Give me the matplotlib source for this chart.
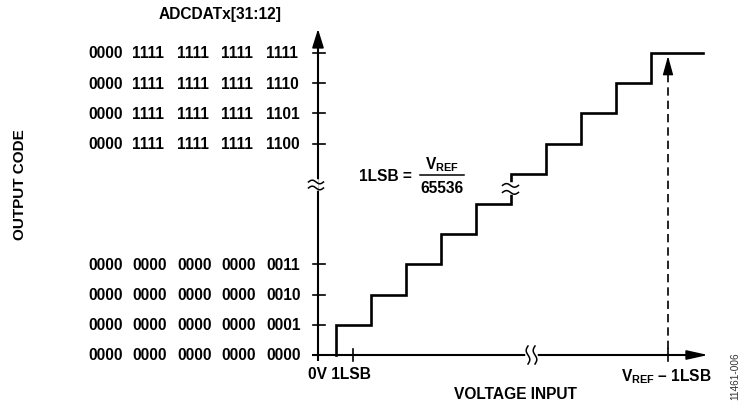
import numpy as np
import matplotlib.pyplot as plt

plt.rcParams['font.family'] = ['Liberation Sans', 'DejaVu Sans']
plt.rcParams['font.weight'] = 'bold'
plt.rcParams['mathtext.fontset'] = 'custom'
plt.rcParams['mathtext.rm'] = 'Liberation Sans:bold'
plt.rcParams['mathtext.it'] = 'Liberation Sans:bold'
plt.rcParams['mathtext.bf'] = 'Liberation Sans:bold'

# output codes shown on the y axis (level = code step)
low_levels = [0, 1, 2, 3]
low_codes = ['0000  0000  0000  0000  0000',
             '0000  0000  0000  0000  0001',
             '0000  0000  0000  0000  0010',
             '0000  0000  0000  0000  0011']
high_levels = [7, 8, 9, 10]
high_codes = ['0000  1111  1111  1111  1100',
              '0000  1111  1111  1111  1101',
              '0000  1111  1111  1111  1110',
              '0000  1111  1111  1111  1111']

# staircase transfer function (x in LSB)
step_x = [0.5, 1.5, 2.5, 3.5, 4.5, 5.5, 6.5, 7.5, 8.5, 9.5]
step_level = [1, 2, 3, 4, 5, 6, 7, 8, 9, 10]
step_end = 11.0
lsb_x = 1
vref_x = 10
y_break = 5.63
x_break = 6.1
riser_break = 5.5

# pixel sizes of one unit
DX = 35.0
DY = 30.2
X0, Y0 = 318, 356
W, H = 741, 406
group_left = [88, 132, 177, 221, 266]  # px, left edge of each 4-bit group

fig = plt.figure(figsize=(W / 100, H / 100), dpi=100)
ax = fig.add_axes([0, 0, 1, 1])
ax.set_xlim(-X0 / DX, (W - X0) / DX)
ax.set_ylim(-(H - Y0) / DY, Y0 / DY)
ax.axis('off')

px = lambda p: p / DX
py = lambda p: p / DY
lw_axis = 1.5

# axes lines
ax.plot([0, 0], [py(-6), 10.3], color='black', lw=lw_axis, solid_capstyle='butt')
ax.plot([px(-6), 10.7], [0, 0], color='black', lw=lw_axis, solid_capstyle='butt')
ax.annotate('', xy=(0, py(Y0 - 30)), xytext=(0, 10.2),
            arrowprops=dict(arrowstyle='-|>,head_length=0.8,head_width=0.25',
                            mutation_scale=14.4, lw=1.2, color='black',
                            shrinkA=0, shrinkB=0))
ax.annotate('', xy=(px(708 - X0), 0), xytext=(10.6, 0),
            arrowprops=dict(arrowstyle='-|>,head_length=0.9,head_width=0.2',
                            mutation_scale=14.4, lw=1.2, color='black',
                            shrinkA=0, shrinkB=0))

# ticks
for lv in low_levels + high_levels:
    ax.plot([px(-5), px(7)], [lv, lv], color='black', lw=1.2)
for xv in [lsb_x, vref_x]:
    ax.plot([xv, xv], [py(-6), py(6)], color='black', lw=1.2)

# tick labels, one column per 4-bit group
for lv, code in zip(low_levels + high_levels, low_codes + high_codes):
    for gx, grp in zip(group_left, code.split()):
        ax.text(px(gx - X0), lv, grp, ha='left', va='center', fontsize=11.2)

# staircase
xs, ys = [step_x[0]], [0]
prev = 0
for x, lv in zip(step_x, step_level):
    xs += [x, x]
    ys += [prev, lv]
    prev = lv
xs.append(step_end)
ys.append(prev)
ax.plot(xs, ys, color='black', lw=1.9, solid_joinstyle='miter')

# dashed arrow at VREF - 1LSB
ax.plot([vref_x, vref_x], [py(6), 9.4], color='black', lw=1.2, dashes=(5, 3))
ax.annotate('', xy=(vref_x, 9.9), xytext=(vref_x, 9.36),
            arrowprops=dict(arrowstyle='-|>,head_length=0.8,head_width=0.22',
                            mutation_scale=14.4, lw=1.0, color='black',
                            shrinkA=0, shrinkB=0))


# break marks
def hbreak(xc, yc, gap, half_w):
    ax.plot([xc, xc], [yc - py(gap / 2), yc + py(gap / 2)], color='white', lw=4, zorder=3)
    t = np.linspace(-1, 1, 40)
    for s in (-1, 1):
        ax.plot(xc + px(half_w) * t, yc + py(s * gap / 2) - py(1.8) * np.sin(np.pi * t),
                color='black', lw=1.1, zorder=4)


def vbreak(xc, yc, gap, half_h):
    ax.plot([xc - px(gap / 2), xc + px(gap / 2)], [yc, yc], color='white', lw=4, zorder=3)
    t = np.linspace(-1, 1, 40)
    for s in (-1, 1):
        ax.plot(xc + px(s * gap / 2) - px(1.8) * np.sin(np.pi * t), yc + py(half_h) * t,
                color='black', lw=1.1, zorder=4)


hbreak(px(-2), y_break, 6, 7.5)
hbreak(riser_break, riser_break, 7, 8)
vbreak(x_break, 0, 7, 9)

# labels
ax.text(px(220 - X0), py(Y0 - 15), 'ADCDATx[31:12]', ha='center', va='center', fontsize=11.2)
ax.text(px(20 - X0), py(Y0 - 185), 'OUTPUT CODE', ha='center', va='center',
        rotation=90, fontsize=11)
ax.text(px(-10), py(-19), '0V 1LSB', ha='left', va='center', fontsize=11.2)
ax.text(px(712 - X0), py(-25.5), r'$V_{REF}$ – 1LSB', ha='right', va='baseline', fontsize=11.2)
ax.text(px(515 - X0), py(-39), 'VOLTAGE INPUT', ha='center', va='center', fontsize=11.2)
ax.text(px(735 - X0), py(-20), '11461-006', ha='center', va='center', rotation=90,
        fontsize=7.2, fontweight='normal', color='#333333')

# 1LSB = VREF / 65536
ax.text(px(412 - X0), py(Y0 - 177), '1LSB =', ha='right', va='center', fontsize=11.2)
ax.text(px(442 - X0), py(Y0 - 169), r'$V_{REF}$', ha='center', va='baseline', fontsize=11.2)
ax.plot([px(420 - X0), px(464 - X0)], [py(Y0 - 176)] * 2, color='black', lw=1.1)
ax.text(px(442 - X0), py(Y0 - 189), '65536', ha='center', va='center', fontsize=11.2)

fig.savefig('out.png', dpi=100)
